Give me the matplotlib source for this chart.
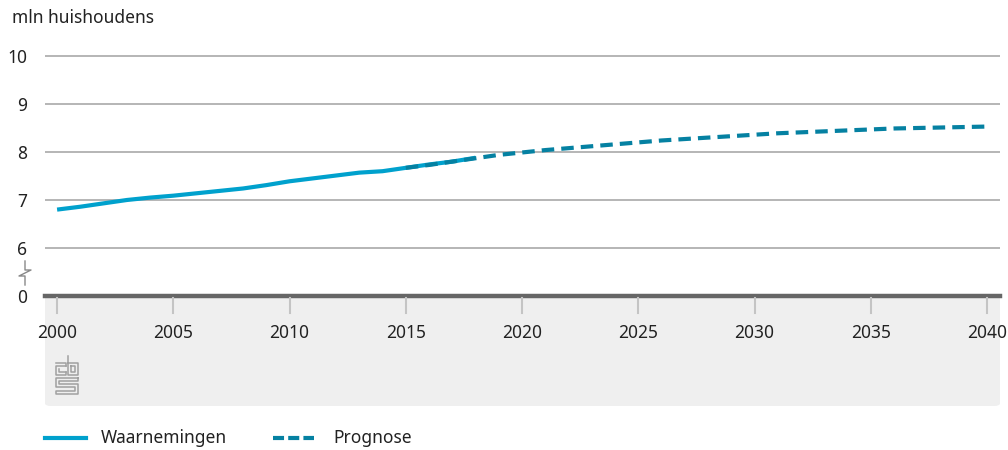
import matplotlib.pyplot as plt
from matplotlib.patches import FancyBboxPatch
from matplotlib.lines import Line2D

plt.rcParams['font.family'] = ['Noto Sans', 'DejaVu Sans']

# households, millions
years_obs = [2000, 2001, 2002, 2003, 2004, 2005, 2006, 2007, 2008, 2009,
             2010, 2011, 2012, 2013, 2014, 2015, 2016, 2017, 2018]
obs = [6.80, 6.86, 6.93, 7.00, 7.05, 7.09, 7.14, 7.19, 7.24, 7.31,
       7.39, 7.45, 7.51, 7.57, 7.60, 7.67, 7.74, 7.80, 7.88]

years_prog = list(range(2015, 2041))
prog = [7.67, 7.73, 7.80, 7.87, 7.94, 7.99, 8.04, 8.08, 8.12, 8.16,
        8.20, 8.24, 8.27, 8.30, 8.33, 8.36, 8.39, 8.41, 8.43, 8.45,
        8.47, 8.49, 8.50, 8.51, 8.52, 8.53]

ytick_vals = [0, 6, 7, 8, 9, 10]
xtick_vals = [2000, 2005, 2010, 2015, 2020, 2025, 2030, 2035, 2040]

W, H = 1008, 450
c_obs = '#00A1CD'
c_prog = '#0581A2'
grid_c = '#b0b0b0'


def fx(x):
    return x / W


def fy(y):
    return 1 - y / H


fig = plt.figure(figsize=(W / 100, H / 100), dpi=100)

# grey footer panel under the x axis
panel = FancyBboxPatch((fx(45), fy(406)), fx(1000) - fx(45), fy(296) - fy(406),
                       boxstyle='round,pad=0,rounding_size=0.006',
                       transform=fig.transFigure, facecolor='#efefef',
                       edgecolor='none', zorder=-2)
fig.patches.append(panel)
# square off the top corners
fig.patches.append(plt.Rectangle((fx(45), fy(330)), fx(1000) - fx(45), fy(296) - fy(330),
                                 transform=fig.transFigure, facecolor='#efefef',
                                 edgecolor='none', zorder=-2))

ax = fig.add_axes([fx(45), fy(296), fx(1000) - fx(45), fy(40) - fy(296)])
ax.set_facecolor('none')
ax.set_xlim(1999.48, 2040.56)
ax.set_ylim(5, 10 + 16 / 48)

# axis break: value 0 is drawn one unit below 6
ypos = [5 if v == 0 else v for v in ytick_vals]
for v in ypos[1:]:
    ax.axhline(v, color=grid_c, lw=1.3, zorder=1)
ax.axhline(5, color='#666666', lw=3.2, zorder=3, clip_on=False)

ax.plot(years_obs, obs, color=c_obs, lw=3, solid_capstyle='butt', zorder=4)
ax.plot(years_prog, prog, color=c_prog, lw=3, dashes=(3, 1.7), zorder=5)

ax.set_yticks(ypos)
ax.set_yticklabels([str(v) for v in ytick_vals])
ax.set_xticks(xtick_vals)
ax.tick_params(axis='y', length=0, pad=13, labelsize=12.5, labelcolor='#222222')
ax.tick_params(axis='x', length=0, pad=20, labelsize=12.5, labelcolor='#222222')
for s in ax.spines.values():
    s.set_visible(False)

# x tick marks hanging into the panel
for xv in xtick_vals:
    px = 57 + (xv - 2000) * 23.25
    fig.add_artist(Line2D([fx(px), fx(px)], [fy(298), fy(313)], color='#c4c4c4',
                          lw=1.5, transform=fig.transFigure, zorder=2))

# break mark on the y axis
bx = 25
fig.add_artist(Line2D([fx(bx), fx(bx), fx(bx + 6), fx(bx - 6), fx(bx), fx(bx)],
                      [fy(261), fy(270), fy(270), fy(276), fy(276), fy(285)],
                      color='#888888', lw=1, transform=fig.transFigure))

# cbs logo
lc = '#a0a0a0'
logo = [
    # c
    ([56, 66, 66], [363, 363, 366]),
    ([66, 56, 56, 66, 66], [366, 366, 375, 375, 372]),
    ([59, 59, 66], [369, 372, 372]),
    # b
    ([68, 68, 78, 78, 68], [356, 375, 375, 363, 363]),
    ([71, 71, 75, 75, 71], [366, 372, 372, 366, 366]),
    # s
    ([78, 56, 56, 75, 75, 56, 56, 78, 78, 59, 59, 78, 78],
     [378, 378, 387, 387, 391, 391, 394, 394, 384, 384, 381, 381, 378]),
]
for xs, ys in logo:
    fig.add_artist(Line2D([fx(v) for v in xs], [fy(v) for v in ys], color=lc,
                          lw=1.1, transform=fig.transFigure))

fig.text(fx(12), fy(18), 'mln huishoudens', fontsize=12.5, color='#222222',
         va='center', ha='left')

# legend
fig.add_artist(Line2D([fx(45), fx(86)], [fy(438), fy(438)], color=c_obs, lw=3,
                      transform=fig.transFigure))
fig.text(fx(101), fy(438), 'Waarnemingen', fontsize=12.5, color='#222222', va='center')
fig.add_artist(Line2D([fx(273), fx(314)], [fy(438), fy(438)], color=c_prog, lw=3,
                      dashes=(2.65, 1.0), transform=fig.transFigure))
fig.text(fx(333), fy(438), 'Prognose', fontsize=12.5, color='#222222', va='center')

fig.savefig('out.png', dpi=100)
